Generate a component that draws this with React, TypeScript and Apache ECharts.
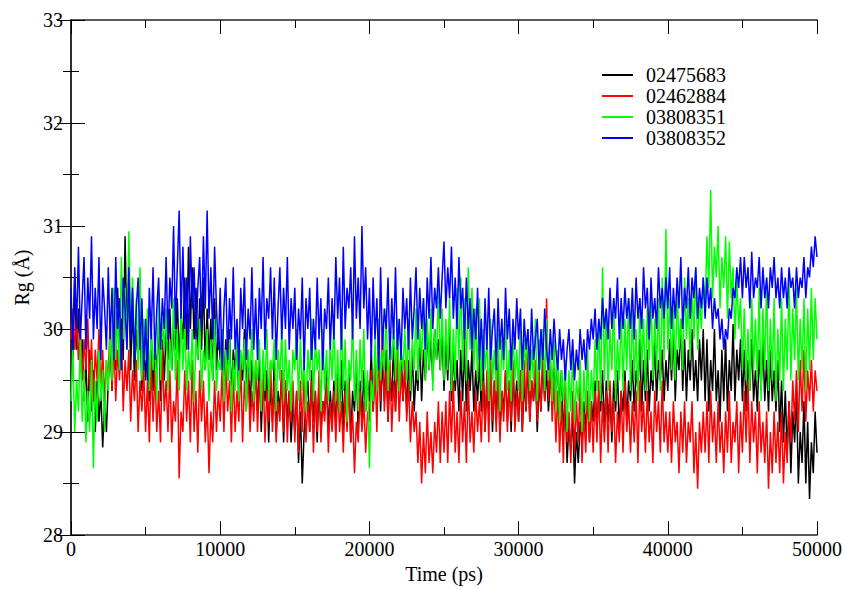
import React, { useEffect, useRef } from "react";
import * as echarts from "echarts";

const STEP = 125; // ps between samples
const seriesNames = ["02475683", "02462884", "03808351", "03808352"];
const seriesColors = ["#000000", "#ff0000", "#00ff00", "#0000ff"];
const xTicks = { min: 0, max: 50000, interval: 10000 };
const yTicks = { min: 28, max: 33, interval: 1 };

const black = [
  30.3,29.7,30.5,29.8,30.2,29.6,29.9,29.3,29.7,29.1,29.8,29.2,29.6,29.0,29.5,29.1,29.4,28.85,29.3,29.0,
  29.5,29.9,29.4,30.2,29.6,30.4,29.8,30.1,29.7,30.9,29.9,30.5,29.6,30.3,29.5,30.0,29.7,30.2,29.4,29.9,
  29.5,29.9,29.3,30.0,29.4,29.8,29.6,30.1,29.3,29.9,29.5,30.0,29.7,30.2,29.6,30.0,29.8,30.3,29.7,30.1,
  29.9,30.5,29.8,30.8,30.0,30.6,29.9,30.4,29.7,30.3,29.8,30.5,29.6,30.2,29.7,30.1,29.5,30.3,29.6,30.0,
  29.7,30.0,29.4,29.9,29.5,30.0,29.3,29.8,29.6,29.9,29.3,29.7,29.5,30.0,29.4,29.8,29.2,29.7,29.4,29.6,
  29.2,29.7,29.0,29.5,29.3,29.6,28.9,29.5,29.1,29.7,29.0,29.4,29.2,29.6,28.9,29.5,29.1,29.4,28.9,29.3,
  29.0,29.4,28.7,29.2,28.5,29.0,29.3,29.5,29.0,29.6,29.1,29.4,28.9,29.5,29.0,29.3,29.2,29.6,29.0,29.4,
  29.1,29.5,29.0,29.6,29.2,29.7,29.0,29.5,29.1,29.6,28.9,29.4,29.2,29.7,29.0,29.5,29.1,29.6,29.2,29.5,
  29.3,29.8,29.2,29.6,29.4,29.9,29.2,29.7,29.3,29.8,29.1,29.6,29.3,29.9,29.2,29.7,29.4,29.8,29.3,29.6,
  29.2,29.7,29.3,29.8,29.2,29.6,29.4,29.9,29.3,29.8,29.5,30.0,29.6,29.9,29.5,30.0,29.7,29.9,29.6,30.0,
  29.4,29.9,29.5,30.0,29.3,29.8,29.4,29.7,29.2,29.8,29.3,29.9,29.2,29.7,29.4,29.8,29.2,29.6,29.3,29.7,
  29.2,29.7,29.0,29.5,29.2,29.6,29.0,29.5,29.1,29.7,29.0,29.4,29.2,29.6,29.1,29.5,29.0,29.6,29.2,29.5,
  29.1,29.6,29.0,29.5,29.2,29.7,29.1,29.5,29.3,29.6,29.0,29.5,29.2,29.7,29.3,29.6,29.2,29.5,29.4,29.7,
  29.3,29.7,29.2,29.6,29.0,29.3,28.7,29.1,28.8,29.2,28.5,29.0,28.7,29.1,28.9,29.3,29.0,29.4,28.9,29.3,
  29.1,29.5,29.0,29.4,29.2,29.6,29.0,29.5,29.1,29.4,28.9,29.5,29.2,29.6,29.0,29.4,29.2,29.6,29.1,29.5,
  29.3,29.7,29.2,29.6,29.4,29.9,29.2,29.7,29.3,29.8,29.2,29.6,29.4,29.9,29.3,29.7,29.5,29.8,29.3,29.7,
  29.4,29.9,29.5,30.0,29.3,29.8,29.6,30.1,29.4,29.9,29.3,29.8,29.5,30.0,29.4,29.7,29.3,29.9,29.5,30.0,
  29.3,29.9,29.2,29.7,29.4,30.0,29.3,29.6,29.1,29.8,29.3,29.9,29.2,29.7,29.4,30.05,29.3,29.8,29.5,29.9,
  29.3,29.8,29.2,29.7,29.4,29.9,29.3,29.6,29.2,29.8,29.4,29.9,29.3,29.7,29.2,29.8,29.3,29.6,29.2,29.7,
  29.0,29.5,28.9,29.4,28.8,29.3,28.6,29.2,28.9,29.4,28.5,29.0,28.7,29.3,28.5,29.1,28.35,28.9,28.6,29.2,
  28.8,
];

const red = [
  29.9,30.2,29.8,30.1,29.7,30.0,29.5,29.9,29.6,30.1,29.4,29.9,29.3,29.8,29.5,30.0,29.4,29.8,29.3,29.7,
  29.5,30.1,29.4,29.9,29.3,29.8,29.5,30.0,29.2,29.7,29.4,29.8,29.1,29.6,29.3,29.7,29.0,29.5,29.2,29.6,
  29.0,29.5,28.9,29.7,29.1,29.6,29.0,29.4,28.9,29.8,29.2,29.5,29.0,29.6,28.9,29.3,29.1,29.7,28.55,29.2,
  29.0,29.6,29.1,29.5,28.9,29.7,29.0,29.4,28.8,29.6,29.1,29.5,28.9,29.3,28.6,29.2,28.9,29.5,29.0,29.4,
  29.1,29.6,29.0,29.7,29.2,29.5,28.9,29.6,29.0,29.4,29.1,29.7,28.9,29.5,29.2,29.6,29.0,29.4,29.1,29.7,
  29.0,29.5,29.2,29.6,28.9,29.4,29.1,29.7,29.0,29.5,28.9,29.3,29.1,29.6,29.0,29.5,28.9,29.4,29.1,29.5,
  28.9,29.4,28.8,29.5,29.0,29.6,28.9,29.3,29.0,29.5,28.8,29.4,29.0,29.6,28.9,29.3,29.1,29.5,28.8,29.3,
  29.0,29.4,28.9,29.5,29.0,29.3,28.8,29.4,29.0,29.5,28.9,29.2,28.6,29.1,28.9,29.4,29.0,29.3,28.8,29.2,
  29.1,29.6,29.2,29.7,29.0,29.8,29.3,30.0,29.2,29.6,29.1,29.7,29.0,29.5,29.2,29.8,29.1,29.6,29.3,29.7,
  29.1,29.5,28.9,29.3,29.0,29.2,28.7,29.1,28.5,29.0,28.6,29.2,28.7,29.0,28.6,29.1,28.8,29.3,28.7,29.2,
  28.8,29.3,28.7,29.4,28.9,29.5,28.8,29.2,28.7,29.4,28.9,29.3,28.7,29.5,28.9,29.2,28.8,29.4,29.0,29.3,
  28.9,29.5,29.0,29.6,28.9,29.7,29.1,29.5,29.0,29.6,28.9,29.4,29.1,29.6,29.0,29.5,29.1,29.7,29.0,29.4,
  29.1,29.6,29.0,29.7,29.2,29.8,29.1,29.5,29.3,29.7,29.1,29.6,29.2,29.8,29.3,30.3,29.3,29.7,29.1,29.5,
  28.9,29.4,28.8,29.3,28.7,29.5,28.9,29.2,28.7,29.4,28.8,29.3,28.9,29.5,28.7,29.2,28.8,29.4,28.9,29.3,
  28.8,29.4,28.9,29.5,28.7,29.3,28.9,29.4,28.8,29.5,29.0,29.3,28.7,29.2,28.9,29.4,28.8,29.5,29.0,29.3,
  28.8,29.3,28.9,29.4,28.7,29.5,29.0,29.3,28.8,29.4,28.9,29.2,28.7,29.4,29.0,29.3,28.8,29.5,28.9,29.2,
  28.8,29.2,28.7,29.3,28.9,29.1,28.6,29.2,28.8,29.3,28.7,29.1,28.9,29.3,28.6,29.0,28.45,29.1,28.8,29.2,
  28.8,29.3,28.7,29.4,28.9,29.2,28.7,29.3,28.8,29.1,28.6,29.2,28.8,29.4,28.7,29.1,28.9,29.3,28.6,29.2,
  28.8,29.4,28.9,29.5,28.7,29.3,28.9,29.2,28.6,29.3,28.8,29.1,28.7,29.2,28.45,29.0,28.6,29.2,28.7,29.1,
  28.6,29.2,28.5,29.0,28.7,29.3,28.9,29.5,29.1,29.6,29.0,29.7,29.2,29.8,29.1,29.6,29.3,29.7,29.2,29.6,
  29.4,
];

const green = [
  29.3,29.8,29.0,29.5,29.2,29.9,29.1,29.6,28.9,29.4,29.0,29.7,28.65,29.5,29.1,29.8,29.3,29.6,29.0,29.7,
  29.4,30.0,29.5,30.4,29.7,30.2,29.6,30.7,29.9,30.4,29.8,30.95,30.0,30.5,29.7,30.3,29.6,30.6,29.5,30.1,
  29.7,30.2,29.4,30.0,29.6,29.9,29.3,30.3,29.5,30.1,29.8,30.2,29.4,29.9,29.6,30.3,29.5,30.0,29.4,30.2,
  29.6,30.1,29.4,29.8,29.5,30.0,29.3,29.9,29.7,30.1,29.4,29.8,29.6,30.0,29.3,29.9,29.5,30.1,29.4,29.7,
  29.6,30.0,29.3,29.8,29.5,29.9,29.2,29.7,29.4,30.0,29.3,29.8,29.6,29.9,29.2,29.8,29.5,30.0,29.3,29.7,
  29.5,29.9,29.2,29.8,29.4,30.0,29.3,29.7,29.6,29.9,29.2,29.8,29.5,30.0,29.3,29.9,29.4,29.7,29.2,29.8,
  29.6,30.0,29.3,29.9,29.4,29.7,29.2,29.8,29.5,30.1,29.3,29.9,29.6,29.8,29.2,30.0,29.4,29.8,29.3,29.9,
  29.5,30.1,29.3,29.8,29.2,30.2,29.4,29.9,29.1,29.7,29.5,30.1,29.3,29.8,29.2,29.9,29.4,30.0,29.2,29.6,
  28.65,29.5,29.3,29.9,29.4,30.1,29.5,29.8,29.6,30.2,29.4,29.9,29.7,30.0,29.5,30.1,29.4,29.8,29.6,30.0,
  29.5,30.1,29.4,29.9,29.6,30.2,29.5,30.0,29.7,30.3,29.5,30.1,29.6,30.2,29.4,30.0,29.7,30.4,29.6,30.2,
  29.5,30.1,29.6,30.3,29.4,30.0,29.5,30.4,29.7,30.5,29.6,30.3,29.5,30.6,29.8,30.4,29.6,30.2,29.5,30.3,
  29.4,30.0,29.6,29.9,29.3,30.1,29.5,29.8,29.4,30.0,29.2,29.9,29.6,30.1,29.4,29.8,29.3,30.0,29.5,29.8,
  29.4,30.1,29.3,29.9,29.6,30.0,29.4,29.8,29.5,30.1,29.3,29.9,29.6,30.0,29.4,30.1,29.5,29.8,29.3,29.9,
  29.2,29.8,29.1,29.6,29.3,29.7,29.0,29.6,29.2,29.8,29.1,29.5,29.3,29.7,29.0,29.6,29.2,29.8,29.1,29.6,
  29.3,29.9,29.4,30.1,29.3,30.6,29.5,30.2,29.4,30.0,29.6,30.3,29.3,29.9,29.5,30.2,29.4,30.1,29.6,30.3,
  29.4,30.2,29.5,30.0,29.3,30.3,29.6,30.1,29.4,30.2,29.7,30.4,29.5,30.1,29.6,30.3,29.4,30.5,29.7,30.97,
  29.8,30.3,29.6,30.2,29.5,30.4,29.8,30.1,29.6,30.5,29.9,30.3,29.7,30.4,29.9,30.6,29.8,30.3,30.0,30.5,
  30.2,30.9,30.4,31.35,30.3,30.8,30.5,31.0,30.2,30.7,30.4,30.9,30.1,30.85,30.3,30.6,29.9,30.5,30.0,30.3,
  29.6,30.2,29.5,30.0,29.4,30.3,29.6,30.1,29.5,30.4,29.3,30.2,29.6,30.5,29.4,30.1,29.5,30.3,29.3,30.0,
  29.5,30.3,29.4,30.1,29.6,30.5,29.5,30.2,29.7,30.4,29.5,30.1,29.6,30.3,29.4,30.2,29.6,30.4,29.7,30.3,
  29.9,
];

const blue = [
  30.4,29.8,30.6,30.0,30.8,29.9,30.3,30.7,29.8,30.5,30.1,30.9,29.9,30.4,30.0,30.7,29.7,30.5,30.2,29.8,
  30.6,29.9,30.4,29.7,30.7,30.0,30.3,29.6,30.5,30.2,29.8,30.6,29.9,30.4,29.7,30.2,30.5,29.8,30.3,29.6,
  30.1,29.5,30.4,29.9,30.6,29.7,30.2,30.5,29.8,30.3,30.0,30.7,29.9,30.5,30.2,31.0,30.0,30.6,31.15,30.1,
  30.8,30.0,30.5,29.8,30.9,30.2,30.6,29.9,30.4,30.7,30.0,30.9,30.2,31.15,30.1,30.6,29.9,30.8,30.2,29.8,
  30.4,29.6,30.2,30.5,29.7,30.3,29.9,30.6,29.8,30.1,29.6,30.4,30.0,30.5,29.7,30.2,29.9,30.6,29.8,30.3,
  29.7,30.4,30.0,30.7,29.8,30.3,30.1,30.6,29.9,30.5,29.7,30.2,30.6,29.9,30.4,30.0,30.7,29.8,30.3,30.0,
  30.4,29.7,30.2,29.9,30.5,29.6,30.3,30.0,30.4,29.7,30.1,29.8,30.5,29.9,30.3,29.6,30.2,30.0,30.5,29.8,
  30.3,29.9,30.7,30.1,30.5,29.8,30.8,30.0,30.4,30.2,30.6,29.9,30.9,30.1,30.5,30.0,31.0,30.2,30.6,29.9,
  30.4,29.7,30.5,29.9,30.3,29.6,30.6,29.8,30.2,30.0,30.5,29.7,30.3,29.9,30.6,29.8,30.1,29.7,30.4,30.0,
  30.3,29.8,30.5,29.9,30.2,30.6,29.9,30.4,30.0,30.3,29.8,30.5,30.1,30.7,30.0,30.4,30.2,30.6,30.1,30.5,
  30.85,30.2,30.6,30.3,30.8,30.1,30.5,30.0,30.7,30.2,30.4,29.9,30.5,30.0,30.3,29.8,30.2,29.9,30.4,29.7,
  30.1,29.6,30.3,29.8,30.4,29.7,30.0,30.2,29.6,30.3,29.8,30.1,29.7,30.4,29.9,30.2,29.6,30.1,29.8,30.3,
  29.9,30.2,29.6,30.1,29.8,30.0,29.6,30.2,29.7,29.9,30.1,29.6,30.0,29.7,30.2,29.8,29.6,30.0,29.7,30.1,
  29.8,29.6,30.0,29.7,29.9,29.5,29.8,30.0,29.6,29.9,29.5,29.8,29.6,30.0,29.7,29.9,29.6,30.0,29.8,30.1,
  29.9,30.2,29.8,30.1,29.9,30.3,30.0,30.2,29.9,30.4,30.0,30.3,30.1,30.5,29.9,30.3,30.0,30.4,30.1,30.3,
  30.0,30.4,29.9,30.5,30.1,30.3,30.0,30.6,30.2,30.4,29.9,30.5,30.1,30.3,30.0,30.6,30.2,30.4,30.1,30.5,
  30.2,30.6,30.0,30.4,30.1,30.5,30.2,30.7,30.0,30.4,30.2,30.6,30.1,30.5,30.3,30.6,30.1,30.4,30.2,30.5,
  30.1,30.5,30.2,30.4,30.0,30.3,30.1,30.2,29.9,30.1,29.8,30.0,29.9,30.2,30.1,30.4,30.3,30.6,30.4,30.7,
  30.3,30.7,30.4,30.6,30.2,30.75,30.3,30.5,30.4,30.7,30.2,30.6,30.3,30.5,30.2,30.6,30.4,30.7,30.3,30.5,
  30.2,30.6,30.3,30.5,30.2,30.6,30.4,30.5,30.2,30.6,30.3,30.5,30.4,30.7,30.3,30.6,30.5,30.8,30.6,30.9,
  30.7,
];

const allValues = [black, red, green, blue];

const FONT = "Liberation Serif";

export default function App() {
  const ref = useRef<HTMLDivElement>(null);
  useEffect(() => {
    if (!ref.current) return;
    const chart = echarts.init(ref.current, undefined, { renderer: "svg" });
    const tickStyle = {
      axisTick: { inside: true, length: 14, lineStyle: { color: "#000", width: 1 } },
      minorTick: { show: true, splitNumber: 2, length: 8, lineStyle: { color: "#000", width: 1 } },
      axisLine: { show: true, lineStyle: { color: "#222", width: 1.5 } },
      splitLine: { show: false },
    };
    chart.setOption({
      animation: false,
      backgroundColor: "#fff",
      grid: { left: 71, right: 27, top: 20, bottom: 46, containLabel: false },
      legend: {
        orient: "vertical",
        left: 597,
        top: 60,
        icon: "rect",
        itemWidth: 31,
        itemHeight: 2,
        itemGap: 1,
        textStyle: { fontFamily: FONT, fontSize: 20, color: "#000", padding: [0, 0, 0, 8] },
        data: seriesNames,
      },
      xAxis: [
        {
          type: "value",
          ...xTicks,
          name: "Time (ps)",
          nameLocation: "middle",
          nameGap: 22,
          nameTextStyle: { fontFamily: FONT, fontSize: 20, color: "#000" },
          ...tickStyle,
          axisLabel: {
            fontFamily: FONT,
            fontSize: 20,
            color: "#000",
            margin: 4,
            formatter: (v: number) => String(v),
          },
        },
        {
          type: "value",
          position: "top",
          ...xTicks,
          ...tickStyle,
          axisLabel: { show: false },
        },
      ],
      yAxis: [
        {
          type: "value",
          ...yTicks,
          name: "Rg (Å)",
          nameLocation: "middle",
          nameGap: 37,
          nameRotate: 90,
          nameTextStyle: { fontFamily: FONT, fontSize: 20, color: "#000" },
          ...tickStyle,
          axisLabel: { fontFamily: FONT, fontSize: 20, color: "#000", margin: 8 },
        },
        {
          type: "value",
          position: "right",
          ...yTicks,
          ...tickStyle,
          axisLabel: { show: false },
        },
      ],
      series: allValues.map((vals, k) => ({
        name: seriesNames[k],
        type: "line",
        xAxisIndex: 0,
        yAxisIndex: 0,
        symbol: "none",
        showSymbol: false,
        clip: true,
        lineStyle: { color: seriesColors[k], width: 1.5 },
        itemStyle: { color: seriesColors[k] },
        data: vals.map((v, i) => [i * STEP, v]),
      })),
    });
    return () => chart.dispose();
  }, []);
  return (
    <div
      ref={ref}
      style={{ position: "fixed", left: 0, top: 0, width: 845, height: 589 }}
    />
  );
}
